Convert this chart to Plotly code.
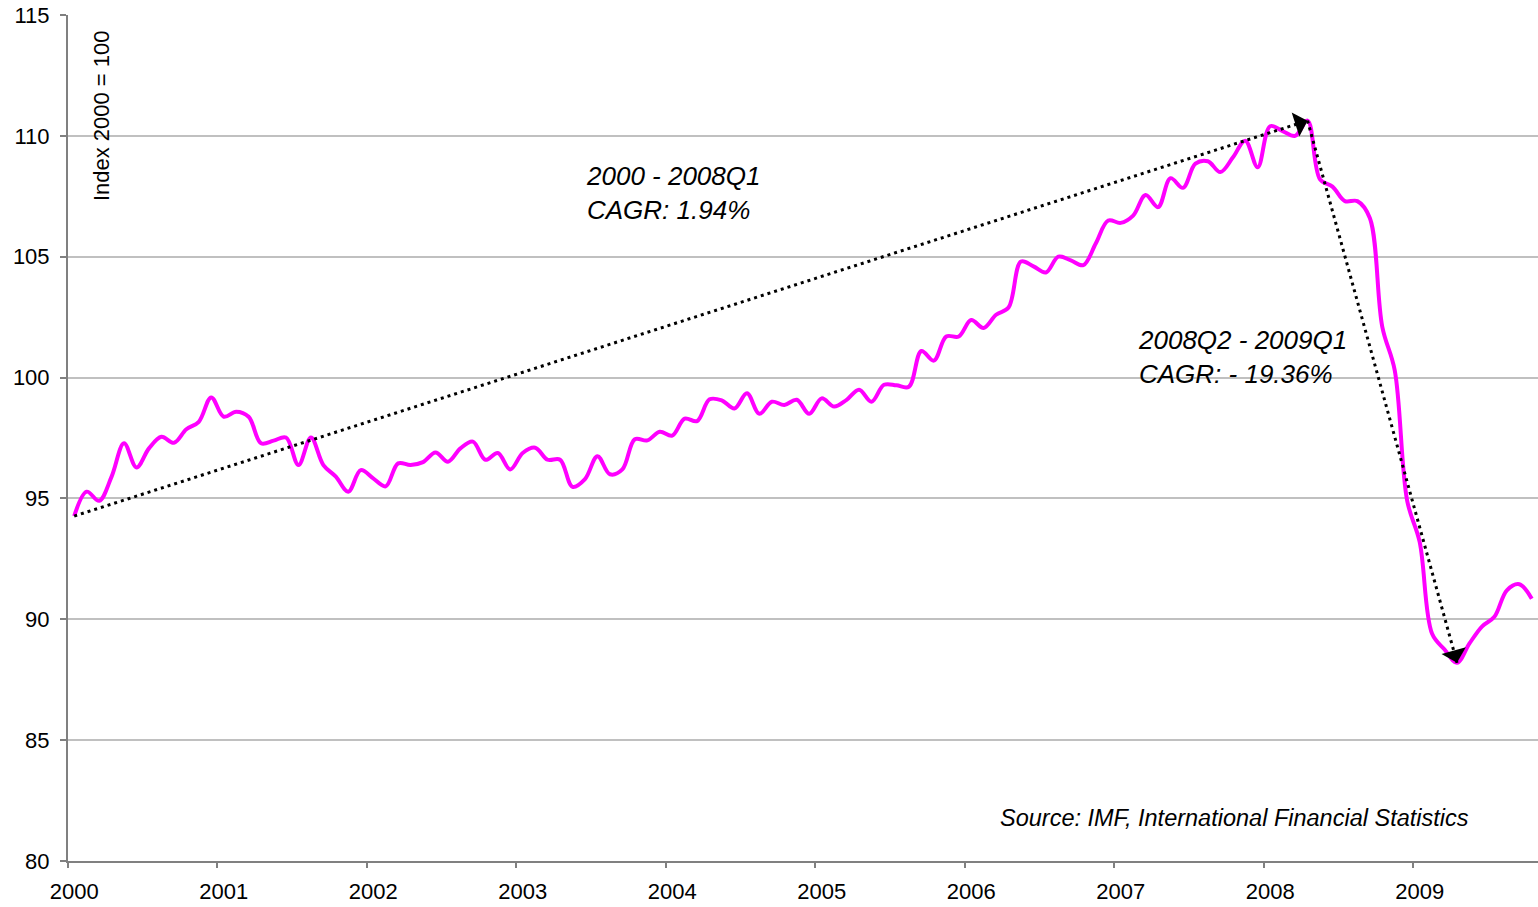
import math
import plotly.graph_objects as go

# Monthly index values (2000 = 100), Jan 2000 - Oct 2009
v2000 = [94.27, 95.28, 94.90, 95.90, 97.28, 96.28, 97.07, 97.55, 97.30, 97.86, 98.17, 99.18]
v2001 = [98.38, 98.59, 98.38, 97.28, 97.39, 97.52, 96.38, 97.52, 96.38, 95.90, 95.28, 96.17]
v2002 = [95.83, 95.50, 96.45, 96.38, 96.50, 96.90, 96.52, 97.07, 97.35, 96.60, 96.88, 96.20]
v2003 = [96.88, 97.10, 96.60, 96.60, 95.48, 95.80, 96.75, 96.00, 96.20, 97.45, 97.40, 97.76]
v2004 = [97.60, 98.30, 98.20, 99.10, 99.05, 98.72, 99.35, 98.50, 99.00, 98.87, 99.08, 98.50]
v2005 = [99.14, 98.80, 99.08, 99.50, 99.00, 99.70, 99.68, 99.62, 101.10, 100.70, 101.70, 101.70]
v2006 = [102.38, 102.05, 102.60, 102.90, 104.80, 104.60, 104.35, 105.00, 104.85, 104.65, 105.55, 106.50]
v2007 = [106.40, 106.70, 107.55, 107.05, 108.25, 107.85, 108.85, 108.95, 108.50, 109.10, 109.80, 108.70]
v2008 = [110.40, 110.20, 110.00, 110.63, 108.20, 107.90, 107.30, 107.30, 106.60, 102.10, 100.30, 94.90]
v2009 = [93.20, 89.40, 88.75, 88.20, 89.00, 89.70, 90.10, 91.20, 91.45, 90.85]

years = ["2000", "2001", "2002", "2003", "2004", "2005", "2006", "2007", "2008", "2009"]

values = v2000 + v2001 + v2002 + v2003 + v2004 + v2005 + v2006 + v2007 + v2008 + v2009
months = list(range(len(values)))

# CAGR arrow anchors (month indices): start, peak (2008Q2), trough (2009Q1)
i_start, i_peak, i_trough = 0, 99, 111

FONT = "Liberation Sans, Arial, sans-serif"
W, H = 1538, 907
M = dict(l=68, r=0, t=15, b=46)
XR = [-0.5, len(values) - 0.5]
YR = [80, 115]
px_x = (W - M["l"] - M["r"]) / (XR[1] - XR[0])
px_y = (H - M["t"] - M["b"]) / (YR[1] - YR[0])

fig = go.Figure()
fig.add_trace(go.Scatter(
    x=months, y=values, mode="lines",
    line=dict(color="#FF00FF", width=4, shape="spline", smoothing=1.0),
    hoverinfo="skip"))

for a, b in [(i_start, i_peak), (i_peak, i_trough)]:
    fig.add_trace(go.Scatter(
        x=[months[a], months[b]], y=[values[a], values[b]],
        mode="lines",
        line=dict(color="black", width=3, dash="3px,4px"),
        hoverinfo="skip"))
    # arrowhead at the end point, oriented along the dotted line
    dx = (months[b] - months[a]) * px_x
    dy = -(values[b] - values[a]) * px_y
    n = math.hypot(dx, dy)
    L = 6
    fig.add_annotation(x=months[b], y=values[b], xref="x", yref="y",
                       ax=-dx / n * L, ay=-dy / n * L, axref="pixel", ayref="pixel",
                       showarrow=True, arrowhead=1, arrowsize=1.4, arrowwidth=3,
                       arrowcolor="black", text="")

fig.add_annotation(x=40.9, y=107.65, xref="x", yref="y", xanchor="left", yanchor="middle",
                   text="<i>2000 - 2008Q1<br>CAGR: 1.94%</i>", align="left", showarrow=False,
                   font=dict(family=FONT, size=26, color="black"))
fig.add_annotation(x=85.2, y=100.85, xref="x", yref="y", xanchor="left", yanchor="middle",
                   text="<i>2008Q2 - 2009Q1<br>CAGR: - 19.36%</i>", align="left", showarrow=False,
                   font=dict(family=FONT, size=26, color="black"))
fig.add_annotation(x=112.1, y=81.78, xref="x", yref="y", xanchor="right", yanchor="middle",
                   text="<i>Source: IMF, International Financial Statistics</i>", showarrow=False,
                   font=dict(family=FONT, size=23.5, color="black"))
fig.add_annotation(x=0.0224, y=0.985, xref="paper", yref="paper", xanchor="center", yanchor="top",
                   text="Index 2000 = 100", textangle=-90, showarrow=False,
                   font=dict(family=FONT, size=22, color="black"))

fig.update_layout(
    width=W, height=H,
    margin=M,
    paper_bgcolor="white", plot_bgcolor="white",
    showlegend=False,
    font=dict(family=FONT, size=22, color="black"),
)
fig.update_xaxes(
    range=XR,
    tickmode="array", tickvals=[12 * k for k in range(len(years))], ticktext=years,
    ticks="outside", ticklen=10, tickcolor="rgba(0,0,0,0)",
    minor=dict(tickmode="array", tickvals=[12 * k - 0.5 for k in range(len(years))],
               ticks="outside", ticklen=5, tickwidth=2, tickcolor="#808080", showgrid=False),
    showline=True, linecolor="#808080", linewidth=2,
    showgrid=False, zeroline=False,
    tickfont=dict(family=FONT, size=22, color="black"),
)
fig.update_yaxes(
    range=YR, tickmode="linear", tick0=80, dtick=5,
    ticks="outside", ticklen=6, tickwidth=2, tickcolor="#808080",
    showline=True, linecolor="#808080", linewidth=2,
    showgrid=True, gridcolor="#C0C0C0", gridwidth=2, zeroline=False,
    tickfont=dict(family=FONT, size=22, color="black"),
    ticklabelstandoff=6,
)

fig.write_html("out.html", config={"displayModeBar": False},
               post_script="document.body.style.margin='0';")
